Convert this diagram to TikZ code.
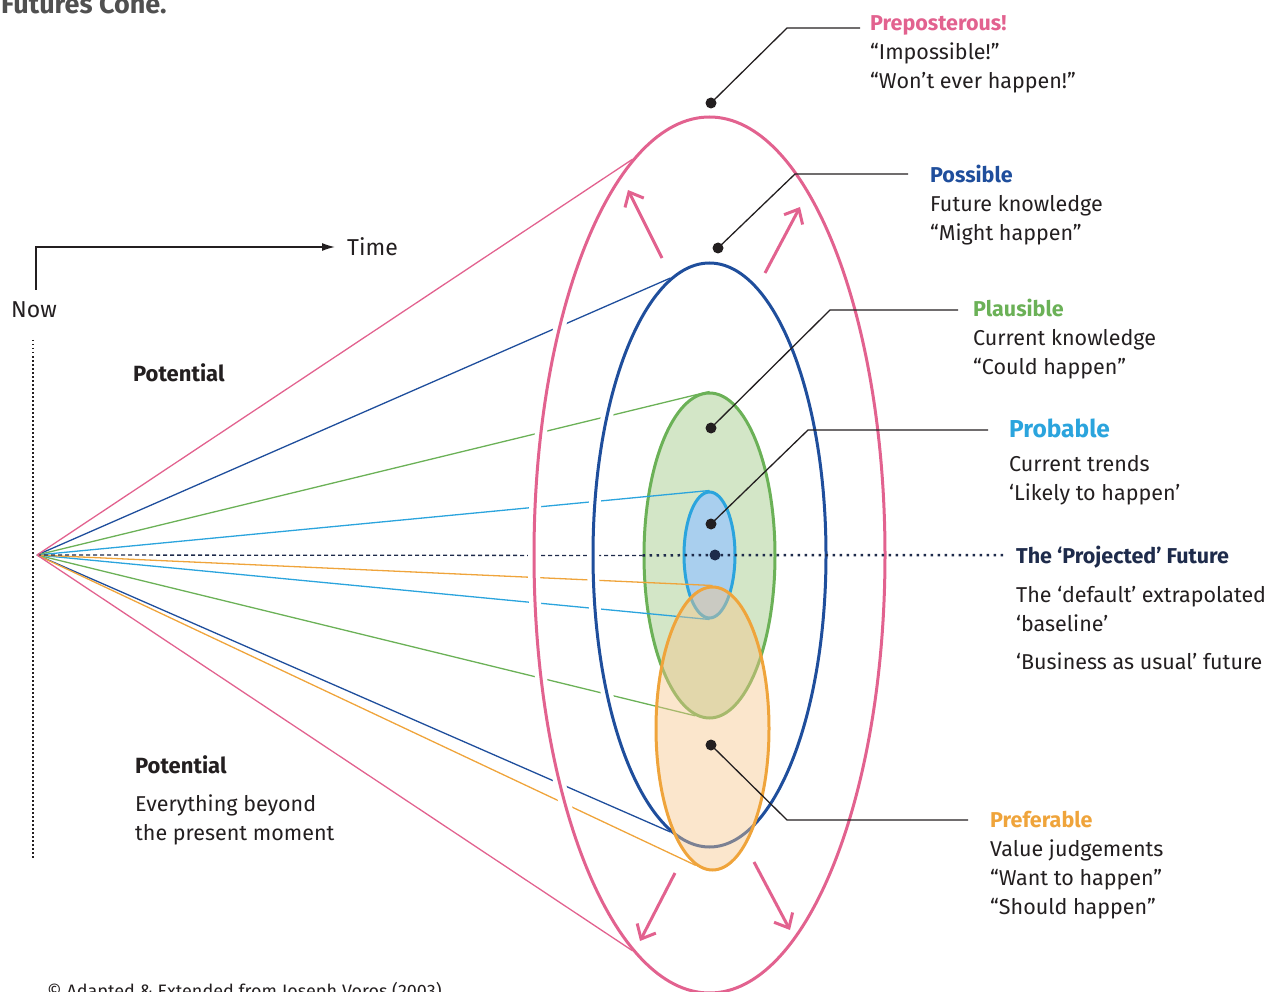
\documentclass[tikz,border=0pt]{standalone}
\usepackage{fontspec}
\setmainfont{Fira Sans}
\usetikzlibrary{shapes.geometric, arrows.meta, calc}
\definecolor{prepink}{HTML}{E2628F}
\definecolor{possblue}{HTML}{1F4E9C}
\definecolor{plausgreen}{HTML}{6BB157}
\definecolor{plausfill}{HTML}{D3E6C7}
\definecolor{probblue}{HTML}{2BA4DD}
\definecolor{probfill}{HTML}{A9CFEE}
\definecolor{preforange}{HTML}{EFA43B}
\definecolor{preffill}{HTML}{F6C588}
\definecolor{navy}{HTML}{1E2B4B}
\definecolor{ink}{HTML}{231F20}
\definecolor{titlegray}{HTML}{505050}
\pgfdeclarelayer{under}
\pgfdeclarelayer{rays}
\pgfdeclarelayer{gaps}
\pgfsetlayers{under,rays,gaps,main}

\begin{document}
\begin{tikzpicture}[x=1pt, y=-1pt,
    cone/.style={ellipse, draw, line width=3pt, inner sep=0pt},
    ray/.style={line width=1.3pt},
    halo/.style={draw=white, line width=12pt},
    callout/.style={draw=ink, line width=1.3pt},
    dot/.style={circle, fill=ink, inner sep=0pt, minimum size=11pt},
    push/.style={draw=prepink, line width=3pt, -{Straight Barb[length=12pt,width=21pt]}},
    lbl/.style={anchor=north west, inner sep=0pt, align=left, text=ink, font=\fontsize{21.5}{29}\selectfont}
  ]
    \useasboundingbox (0,0) rectangle (1280,992);

    \node[anchor=base west, inner sep=0pt, text=titlegray, font=\fontsize{27}{32}\selectfont\bfseries] (title) at (1,14) {Futures Cone.};

    \coordinate (apex) at (37,555);
    \coordinate (nowtop) at (36,290);
    \node[text=ink, font=\fontsize{23}{28}\selectfont] (nowlbl) at (34,310) {Now};
    \node[anchor=west, inner sep=0pt, text=ink, font=\fontsize{23}{28}\selectfont] (timelbl) at (347,247) {Time};
    \draw[ink, line width=1.3pt, shorten >=12pt, -{Latex[length=13pt,width=8pt]}] (nowtop) |- (timelbl.west);
    \draw[ink, line width=1.5pt, dash pattern=on 1.5pt off 2.5pt] (33,340) -- (33,860);

    \node[anchor=west, inner sep=0pt, text=ink, font=\fontsize{22}{29}\selectfont\bfseries] (potTop) at (133,373) {Potential};
    \node[lbl] (potLow) at (135,755) {{\fontsize{22}{29}\selectfont\bfseries Potential}\\[9pt]Everything beyond\\the present moment};

    \node[cone, draw=prepink, minimum width=351pt, minimum height=876pt] (prep) at (709.5,555) {};
    \node[cone, draw=possblue, minimum width=233pt, minimum height=584pt] (poss) at (709.5,555) {};
    \node[cone, draw=preforange, fill=preffill, fill opacity=0.43, minimum width=113pt, minimum height=283pt] (pref) at (712.5,728.5) {};
    \begin{pgfonlayer}{under}
      \node[cone, draw=plausgreen, fill=plausfill, minimum width=131pt, minimum height=325pt] (plaus) at (709.5,555.5) {};
      \node[cone, draw=probblue, fill=probfill, minimum width=51pt, minimum height=126pt] (prob) at (709.5,555) {};
    \end{pgfonlayer}

    \begin{pgfonlayer}{rays}
      \draw[ray, possblue] (apex) -- (poss.98);
      \draw[ray, possblue] (apex) -- (poss.262);
      \draw[ray, plausgreen] (apex) -- (plaus.north);
      \draw[ray, plausgreen] (apex) -- (plaus.265);
      \draw[ray, probblue] (apex) -- (prob.north);
      \draw[ray, probblue] (apex) -- (prob.south);
      \draw[ray, preforange] (apex) -- (pref.north);
      \draw[ray, preforange] (apex) -- (pref.263);
      \draw[navy, line width=1.3pt, dash pattern=on 4pt off 3pt] (apex) -- (plaus.west);
    \end{pgfonlayer}

    \begin{pgfonlayer}{gaps}
      \draw[halo] (prep.center) ++(143:175.5 and 438) arc[start angle=143, end angle=217, x radius=175.5, y radius=438];
      \draw[halo] (poss.center) ++(145:116.5 and 292) arc[start angle=145, end angle=215, x radius=116.5, y radius=292];
    \end{pgfonlayer}

    \draw[ray, prepink] (apex) -- (prep.101);
    \draw[ray, prepink] (apex) -- (prep.259);

    \draw[push] (662,258) -- (628,190);
    \draw[push] (765,273) -- (800,207);
    \draw[push] (675,873) -- (640,941);
    \draw[push] (754,862) -- (790,930);

    \node[dot] (dPrep) at (711,103) {};
    \node[dot] (dPoss) at (718,248) {};
    \node[dot] (dPlaus) at (711,428) {};
    \node[dot] (dProb) at (711,524) {};
    \node[dot, fill=navy] (dProj) at (715,555) {};
    \node[dot] (dPref) at (711,745) {};

    \node[lbl] (lPrep) at (870,15) {\textbf{\color{prepink}Preposterous!}\\“Impossible!”\\“Won’t ever happen!”};
    \node[lbl] (lPoss) at (930,165) {\textbf{\color{possblue}Possible}\\Future knowledge\\“Might happen”};
    \node[lbl] (lPlaus) at (973,299) {\textbf{\color{plausgreen}Plausible}\\Current knowledge\\“Could happen”};
    \node[lbl] (lProb) at (1009,419) {{\fontsize{24.5}{29}\selectfont\bfseries\color{probblue}Probable}\\[5pt]Current trends\\‘Likely to happen’};
    \node[lbl] (lProj) at (1016,546) {\textbf{\color{navy}The ‘Projected’ Future}\\[10pt]The ‘default’ extrapolated\\‘baseline’\\[9pt]‘Business as usual’ future};
    \node[lbl] (lPref) at (990,811) {\textbf{\color{preforange}Preferable}\\Value judgements\\“Want to happen”\\“Should happen”};

    \coordinate (ePrep) at (787,28);
    \coordinate (ePoss) at (795,174);
    \coordinate (ePlaus) at (830,310);
    \coordinate (eProb) at (808,430);
    \coordinate (ePref) at (787,820);
    \coordinate (tPrep) at (860,28);
    \coordinate (tPoss) at (908,174);
    \coordinate (tPlaus) at (958,310);
    \coordinate (tProb) at (988,430);
    \coordinate (tProj) at (1005,555);
    \coordinate (tPref) at (968,820);

    \draw[callout] (dPrep.center) -- (ePrep) -- (tPrep);
    \draw[callout] (dPoss.center) -- (ePoss) -- (tPoss);
    \draw[callout] (dPlaus.center) -- (ePlaus) -- (tPlaus);
    \draw[callout] (dProb.center) -- (eProb) -- (tProb);
    \draw[callout] (dPref.center) -- (ePref) -- (tPref);
    \draw[navy, line width=2.5pt, dash pattern=on 2.5pt off 4.5pt] (plaus.west) -- (dProj) -- (tProj);

    \node[anchor=base west, inner sep=0pt, text=ink, font=\fontsize{18}{22}\selectfont] (credit) at (47,997.5) {© Adapted \& Extended from Joseph Voros (2003)};
  \end{tikzpicture}
\end{document}
